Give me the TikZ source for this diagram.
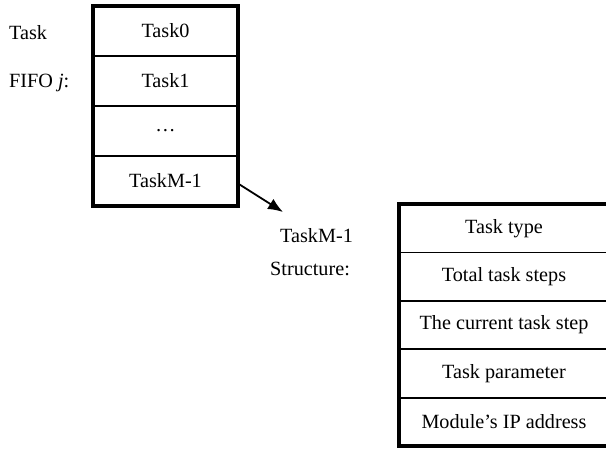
\documentclass[tikz,border=0pt]{standalone}
\usepackage{fontspec}
\setmainfont{Liberation Serif}
\usetikzlibrary{arrows.meta, positioning}

\begin{document}
\begin{tikzpicture}[x=1pt, y=-1pt,
  txt/.style={font=\fontsize{20.2}{24}\selectfont, inner sep=0pt},
  fifocell/.style={txt, draw, line width=1.8pt, outer sep=0pt, minimum width=145pt, minimum height=50pt},
  fieldcell/.style={txt, draw, line width=1.8pt, outer sep=0pt, minimum width=210pt, minimum height=48.4pt},
  frame/.style={line width=4.5pt},
  link/.style={-{Latex[length=15pt, width=12pt]}, line width=1.8pt}
]
\useasboundingbox (0,0) rectangle (606,450);
\clip (0,0) rectangle (606,450);

\node[txt, anchor=base west] (lblTask) at (9,39) {Task};
\node[txt, anchor=base west] (lblFifo) at (9,87) {FIFO~\textit{j}:};

\node[fifocell] (t0) at (165.5,31) {Task0};
\node[fifocell, below=0pt of t0] (t1) {Task1};
\node[fifocell, below=0pt of t1] (t2) {\ldots};
\node[fifocell, below=0pt of t2] (t3) {TaskM-1};
\draw[frame] (t0.north west) rectangle (t3.south east);

\node[txt, anchor=base west] (lblTaskM) at (280,242) {TaskM-1};
\node[txt, anchor=base west] (lblStruct) at (270,275) {Structure:};

\node[fieldcell] (f0) at (504,228.2) {Task type};
\node[fieldcell, below=0pt of f0] (f1) {Total task steps};
\node[fieldcell, below=0pt of f1] (f2) {The current task step};
\node[fieldcell, below=0pt of f2] (f3) {Task parameter};
\node[fieldcell, below=0pt of f3] (f4) {Module’s IP address};
\draw[frame] (f0.north west) rectangle (f4.south east);

\coordinate (tip) at (283,212);
\draw[link] ([yshift=-2.5pt]t3.east) -- (tip);
\end{tikzpicture}
\end{document}
